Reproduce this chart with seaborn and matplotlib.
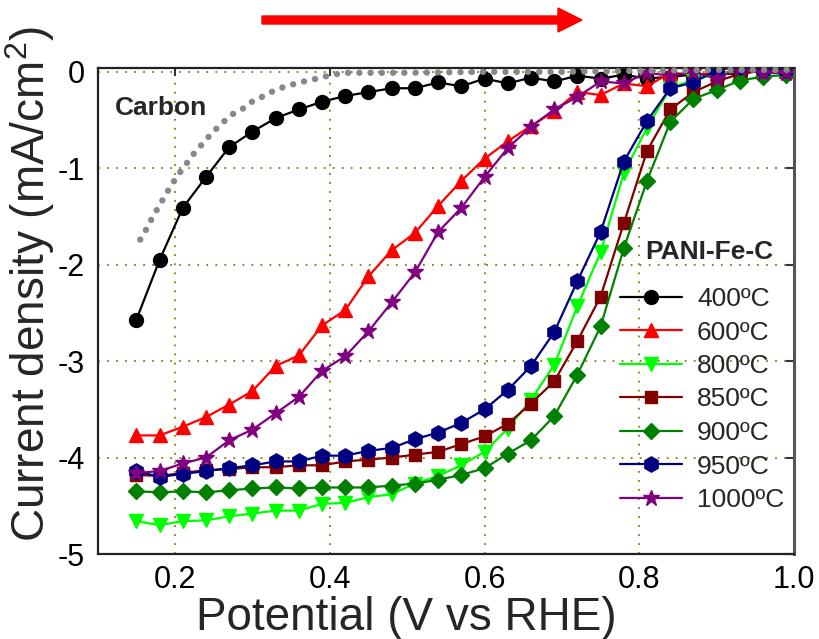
import matplotlib
matplotlib.use("Agg")
import matplotlib.pyplot as plt
from matplotlib.patches import FancyArrow
import seaborn as sns
import pandas as pd

# Potential sweep (V vs RHE) shared by all PANI-Fe-C samples
potential = [0.15, 0.18, 0.21, 0.24, 0.27, 0.30, 0.33, 0.36, 0.39, 0.42,
             0.45, 0.48, 0.51, 0.54, 0.57, 0.60, 0.63, 0.66, 0.69, 0.72,
             0.75, 0.78, 0.81, 0.84, 0.87, 0.90, 0.93, 0.96, 0.99]

j_400 = [-2.57, -1.95, -1.41, -1.09, -0.78, -0.62, -0.48, -0.39, -0.31, -0.25,
         -0.21, -0.17, -0.17, -0.11, -0.15, -0.07, -0.12, -0.06, -0.10, -0.04,
         -0.07, -0.03, -0.07, -0.05, -0.03, -0.02, -0.02, 0.02, 0.01]
j_600 = [-3.77, -3.77, -3.68, -3.58, -3.45, -3.31, -3.05, -2.94, -2.63, -2.47,
         -2.12, -1.85, -1.67, -1.39, -1.13, -0.90, -0.72, -0.56, -0.41, -0.21,
         -0.24, -0.12, -0.15, -0.01, -0.03, -0.01, 0.00, 0.02, 0.01]
j_800 = [-4.66, -4.70, -4.66, -4.65, -4.61, -4.58, -4.55, -4.55, -4.48, -4.47,
         -4.41, -4.38, -4.27, -4.19, -4.08, -3.94, -3.70, -3.40, -3.04, -2.43,
         -1.87, -1.05, -0.58, -0.17, -0.08, -0.03, 0.01, 0.03, 0.01]
j_850 = [-4.18, -4.19, -4.16, -4.13, -4.12, -4.10, -4.10, -4.08, -4.08, -4.04,
         -4.02, -4.00, -3.97, -3.94, -3.86, -3.78, -3.65, -3.44, -3.21, -2.79,
         -2.33, -1.57, -0.82, -0.39, -0.21, -0.10, -0.02, 0.01, 0.03]
j_900 = [-4.35, -4.36, -4.35, -4.36, -4.34, -4.32, -4.31, -4.32, -4.31, -4.31,
         -4.31, -4.29, -4.27, -4.23, -4.18, -4.11, -3.96, -3.82, -3.57, -3.14,
         -2.64, -1.83, -1.13, -0.52, -0.28, -0.19, -0.09, -0.05, -0.03]
j_950 = [-4.14, -4.20, -4.17, -4.14, -4.11, -4.08, -4.04, -4.04, -3.98, -3.98,
         -3.93, -3.90, -3.81, -3.74, -3.64, -3.50, -3.30, -3.05, -2.70, -2.17,
         -1.66, -0.93, -0.51, -0.17, -0.11, 0.02, 0.05, 0.02, 0.02]
j_1000 = [-4.16, -4.14, -4.06, -4.00, -3.82, -3.71, -3.54, -3.37, -3.10, -2.95,
          -2.69, -2.39, -2.08, -1.66, -1.41, -1.09, -0.79, -0.57, -0.39, -0.26,
          -0.10, -0.12, -0.01, -0.04, 0.00, -0.07, 0.04, -0.01, -0.01]

# Bare carbon reference curve
carbon_v = [0.155, 0.163, 0.170, 0.178, 0.186, 0.194, 0.203, 0.213, 0.223, 0.235,
            0.247, 0.261, 0.274, 0.288, 0.301, 0.315, 0.329, 0.343, 0.357, 0.371,
            0.384, 0.398, 0.411, 0.424, 0.45, 0.50, 0.60, 0.70, 0.80, 0.90, 1.00]
carbon_j = [-1.74, -1.63, -1.52, -1.41, -1.30, -1.19, -1.08, -0.97, -0.86, -0.75,
            -0.64, -0.53, -0.44, -0.38, -0.30, -0.25, -0.19, -0.15, -0.12, -0.09,
            -0.07, -0.04, -0.02, -0.01, -0.01, -0.01, 0.00, 0.00, 0.01, 0.02, 0.02]

labels = ["400ºC", "600ºC", "800ºC", "850ºC", "900ºC", "950ºC", "1000ºC"]
currents = [j_400, j_600, j_800, j_850, j_900, j_950, j_1000]
colors = ["#000000", "#ff0000", "#00ff00", "#800000", "#008000", "#000080", "#800080"]
markers = ["o", "^", "v", "s", "D", "h", "*"]
msizes = [10, 10.5, 10.5, 9, 8.5, 11, 12]

sns.set_style("white")
plt.rcParams["font.family"] = ["Liberation Sans", "DejaVu Sans"]
plt.rcParams["mathtext.fontset"] = "custom"
plt.rcParams["mathtext.rm"] = "Liberation Sans"
plt.rcParams["mathtext.it"] = "Liberation Sans:italic"
plt.rcParams["axes.unicode_minus"] = False

fig = plt.figure(figsize=(8.19, 6.39), dpi=100)
ax = fig.add_axes([0.1193, 0.1330, 0.8502, 0.7606])

handles = []
for lab, cur, col, mk, ms in zip(labels, currents, colors, markers, msizes):
    df = pd.DataFrame({"E": potential, "j": cur})
    sns.lineplot(data=df, x="E", y="j", ax=ax, color=col, marker=mk,
                 markersize=ms, markeredgecolor=col, markeredgewidth=1,
                 linewidth=1.6, label=lab, sort=False, estimator=None)
    handles.append(ax.lines[-1])

carbon = pd.DataFrame({"E": carbon_v, "j": carbon_j})
sns.lineplot(data=carbon, x="E", y="j", ax=ax, color="#888888", linewidth=4.6,
             linestyle=(0, (0.01, 1.75)), dash_capstyle="round",
             sort=False, estimator=None, legend=False)
ax.lines[-1].set_zorder(5)
ax.lines[-1].set_clip_on(False)

ax.set_xlim(0.1, 1.0)
ax.set_ylim(-5.0, 0.04)
ax.set_xticks([0.2, 0.4, 0.6, 0.8, 1.0])
ax.set_xticklabels(["0.2", "0.4", "0.6", "0.8", "1.0"])
ax.set_yticks([0, -1, -2, -3, -4, -5])
ax.set_yticklabels(["0", "-1", "-2", "-3", "-4", "-5"])
ax.tick_params(direction="in", length=6, width=1.5, labelsize=22,
               top=True, right=True, pad=9, colors="#333333", labelcolor="black")
ax.tick_params(axis="x", pad=8)

ax.grid(True, color="#808000", linestyle=(0, (1, 4)), linewidth=1.3)
ax.set_axisbelow(True)
for side, sp in ax.spines.items():
    sp.set_visible(True)
    sp.set_color("#222222")
    sp.set_linewidth(1.6)
ax.spines["right"].set_color("#555555")
ax.spines["right"].set_linewidth(2.2)

ax.set_xlabel("Potential (V vs RHE)", fontsize=33)
ax.set_ylabel("Current density (mA/cm$^2$)", fontsize=33)
ax.xaxis.set_label_coords(0.443, -0.086)
ax.yaxis.set_label_coords(-0.058, 0.555)

ax.text(115 / 819, 1 - 115 / 639, "Carbon", transform=fig.transFigure,
        fontsize=19, fontweight="bold", ha="left", va="baseline")
ax.text(645 / 819, 1 - 259 / 639, "PANI-Fe-C", transform=fig.transFigure,
        fontsize=19, fontweight="bold", ha="left", va="baseline")

ax.legend(handles=handles, labels=labels, loc="upper left",
          bbox_to_anchor=(620 / 819, 1 - 287 / 639),
          bbox_transform=fig.transFigure, frameon=False, fontsize=19,
          handlelength=2.35, handletextpad=0.57, labelspacing=0.36,
          borderpad=0, borderaxespad=0)

# Scan-direction arrow above the plot
arrow = FancyArrow(2.62, 6.19, 3.20, 0.0, width=0.08, head_width=0.24,
                   head_length=0.24, length_includes_head=True,
                   color="#ff0000", transform=fig.dpi_scale_trans)
fig.add_artist(arrow)

fig.savefig("out.png", dpi=100)
